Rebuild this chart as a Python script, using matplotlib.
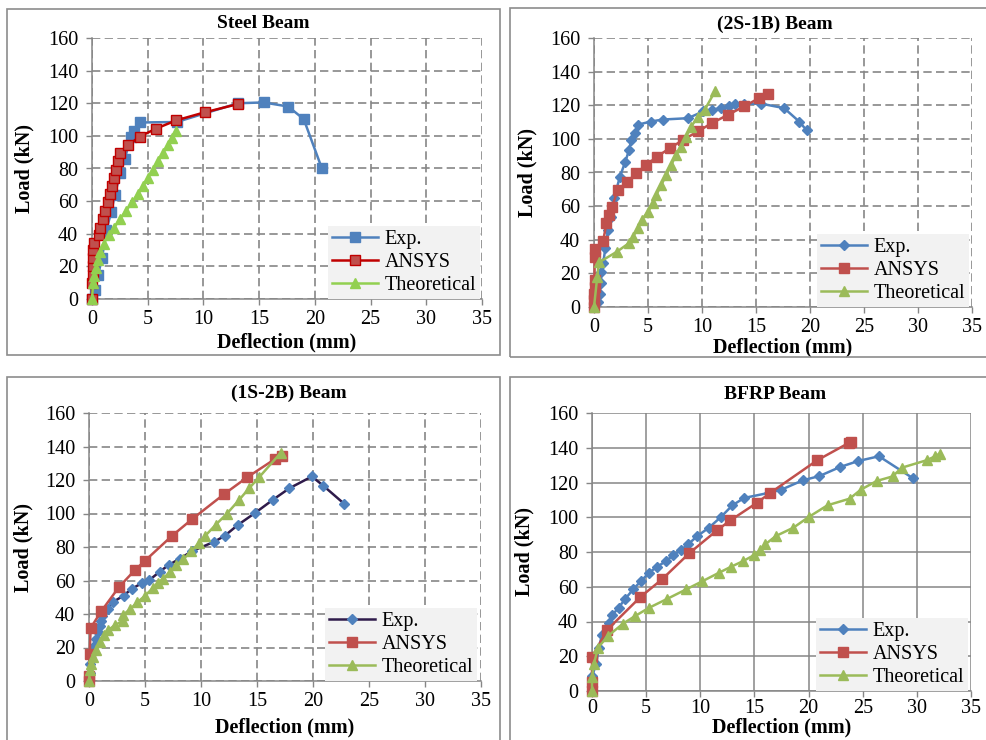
import matplotlib.pyplot as plt
from matplotlib.patches import Rectangle

# -----------------------------------------------------------------------------
# Load-deflection data (mm, kN)
# -----------------------------------------------------------------------------

# Steel beam
steel_exp_x = [0, 0.3, 0.54, 0.9, 1.29, 1.74, 2.04, 2.55, 2.93, 3.5, 3.74, 4.28, 7.6, 13.1, 15.4, 17.6, 19.0, 20.6]
steel_exp_y = [0, 5.5, 14.7, 25, 42.4, 53.6, 63.8, 77.1, 85.7, 99.6, 103.1, 108.2, 108.5, 120, 120.5, 118, 110.3, 80.6]
steel_ans_x = [0, 0, 0.05, 0.05, 0.1, 0.1, 0.15, 0.6, 0.75, 0.96, 1.2, 1.4, 1.65, 1.8, 1.95, 2.15, 2.3,
               2.55, 3.2, 4.3, 5.7, 7.55, 10.1, 13.1]
steel_ans_y = [0, 10, 15, 20, 25, 30, 34.2, 39.3, 43.8, 49.1, 54, 59.3, 64.2, 69.4, 74, 79.2, 84.3,
               89.4, 94.1, 99.6, 104.3, 109.5, 114.4, 119.5]
steel_th_x = [0, 0.1, 0.2, 0.4, 0.54, 0.7, 1.05, 1.5, 2.0, 2.5, 3.05, 3.6, 4.1, 4.6, 5.0, 5.5, 5.9,
              6.35, 6.8, 7.2, 7.5]
steel_th_y = [0, 9.6, 14, 19, 24, 28.6, 34, 39.3, 43.8, 49, 54, 59.3, 64.2, 69.4, 74, 79.2, 84.3,
              89.4, 94.1, 99, 102.7]

# (2S-1B) beam
b2s_exp_x = [0, 0.37, 0.52, 0.62, 0.68, 0.85, 1.05, 1.3, 1.6, 1.85, 2.4, 2.9, 3.25, 3.45, 3.75, 4.1,
             5.25, 6.35, 8.7, 10.1, 10.9, 11.8, 12.5, 13.1, 13.9, 15.5, 17.6, 19.0, 19.7]
b2s_exp_y = [0, 3, 8, 14, 21, 26, 35, 45.7, 53.7, 64.6, 77.5, 86.5, 93.4, 99.4, 103.4, 108.5,
             110.3, 111.5, 112.3, 116.3, 117.3, 118.3, 119.7, 120.7, 120.9, 120.9, 118.3, 110.3, 105]
b2s_ans_x = [0, 0, 0, 0.05, 0.05, 0.06, 0.12, 0.85, 1.15, 1.36, 1.67, 2.2, 3.1, 3.9, 4.85, 5.85,
             7.0, 8.25, 9.6, 10.9, 12.4, 13.9, 15.3, 16.1]
b2s_ans_y = [0, 4, 8, 12, 16, 30, 34.5, 39.4, 49.7, 54.5, 59.5, 69.6, 74.5, 79.5, 84.5, 89.5,
             94.4, 99.4, 104.4, 109.3, 114.3, 119.3, 124.3, 126.8]
b2s_th_x = [0, 0.3, 0.45, 2.1, 3.2, 3.6, 4.07, 4.4, 5.0, 5.46, 5.77, 6.23, 6.7, 7.16, 7.6, 8.1,
            8.55, 9.0, 9.63, 10.25, 11.2]
b2s_th_y = [0, 17.9, 26.5, 32.8, 37.8, 41.7, 46.7, 51.7, 56.7, 61.6, 66.6, 72.6, 78.5, 84.5, 90.5, 95.4,
            101.4, 107.3, 113.3, 117.3, 128.2]

# (1S-2B) beam
b1s_exp_x = [0, 0.06, 0.12, 0.2, 0.45, 0.66, 0.8, 0.95, 1.05, 1.2, 1.7, 2.1, 3.1, 3.8, 4.7, 5.4,
             6.3, 7.1, 8.1, 9.2, 11.2, 12.1, 13.3, 14.8, 16.4, 17.9, 19.9, 20.9, 22.8]
b1s_exp_y = [0, 5, 10, 16, 21, 25, 29, 33, 36, 39, 43, 47, 51, 55, 58.3, 60.3,
             65.2, 69.2, 73, 77.5, 83.2, 86.6, 93.2, 100.2, 108.1, 115.1, 122.1, 116.7, 105.7]
b1s_ans_x = [0, 0, 0.06, 0.15, 1.1, 2.7, 4.1, 5.0, 7.4, 9.2, 12.05, 14.1, 16.6, 17.2]
b1s_ans_y = [0, 3, 16.4, 31.7, 41.7, 56.3, 66.2, 71.8, 86.6, 96.6, 111.5, 121.5, 132.5, 134.5]
b1s_th_x = [0, 0.06, 0.15, 0.4, 0.66, 0.95, 1.3, 1.7, 2.3, 3.0, 3.0, 3.64, 4.3, 5.0, 5.67, 6.2, 6.6,
            7.2, 7.8, 8.4, 9.15, 9.84, 10.4, 11.3, 12.3, 13.4, 14.3, 15.2, 17.1]
b1s_th_y = [0, 6.4, 10.4, 14.4, 18.4, 23.3, 27.3, 30.3, 33.3, 35.9, 39.3, 42.7, 46.9, 50.9, 55.3, 58.7, 60.8,
            65.2, 69.2, 72.6, 77.6, 82.6, 86.8, 93.2, 99.8, 108.1, 115.1, 121.7, 136.1]

# BFRP beam
bfrp_exp_x = [0, 0, 0.4, 0.62, 0.92, 1.54, 1.85, 2.46, 3.08, 3.8, 4.5, 5.24, 5.98, 6.8, 7.5, 8.2,
              8.87, 9.73, 10.8, 11.9, 12.97, 14.05, 16.3, 17.5, 19.44, 21.0, 22.9, 24.6, 26.5, 29.6]
bfrp_exp_y = [0, 8.4, 15.7, 24.9, 32, 39.1, 43.5, 48, 53.1, 58.5, 63.1, 67.9, 71.4, 74.6, 78.1, 81,
              84.4, 89.2, 94, 100.1, 106.9, 111.1, 114, 115.9, 121.2, 123.7, 128.9, 132.4, 135.1, 122.6]
bfrp_ans_x = [0, 0, 0, 1.42, 4.47, 6.47, 9.0, 11.55, 12.78, 15.25, 16.48, 20.8, 23.75, 23.9]
bfrp_ans_y = [0, 5.2, 19.6, 35.3, 54.1, 64.3, 79.4, 92.5, 98.2, 108.4, 114.1, 132.8, 142.9, 143.3]
bfrp_th_x = [0, 0, 0.18, 0.55, 1.48, 2.87, 3.94, 5.24, 6.97, 8.7, 10.17, 11.74, 12.8, 13.9, 14.94,
             15.56, 16.0, 16.98, 18.6, 20.0, 21.75, 23.8, 24.83, 26.3, 27.76, 28.6, 30.9, 31.7, 32.1]
bfrp_th_y = [0, 8.1, 15.7, 24.9, 31.7, 38.8, 43, 47.8, 53.1, 58.5, 63.1, 68.1, 71.4, 74.6, 78.1,
             81, 84.4, 89.2, 94, 100.1, 106.9, 110.7, 115.9, 120.9, 123.5, 128.5, 132.8, 135.1, 136.6]

SERIES_LABELS = ['Exp.', 'ANSYS', 'Theoretical']
X_TICKS = [0, 5, 10, 15, 20, 25, 30, 35]
Y_TICKS = [0, 20, 40, 60, 80, 100, 120, 140, 160]

BLUE = '#4F81BD'
RED = '#C0504D'
GREEN = '#9BBB59'
GRID = '#868686'

plt.rcParams['font.family'] = ['Liberation Serif', 'DejaVu Serif']

W, H = 987, 740
fig = plt.figure(figsize=(W / 100, H / 100), dpi=100)


def px_axes(x0, x1, y_top, y_bot):
    return fig.add_axes([x0 / W, (H - y_bot) / H, (x1 - x0) / W, (y_bot - y_top) / H])


def chart_frame(x0, x1, y_top, y_bot):
    fig.add_artist(Rectangle((x0 / W, (H - y_bot) / H), (x1 - x0) / W, (y_bot - y_top) / H,
                             transform=fig.transFigure, fill=False, edgecolor='#8C8C8C', lw=1.2))


def style_axes(ax, title, title_pos, xlab_y, ylab_x, dashed=True, xpad=4):
    ax.set_xlim(0, 35)
    ax.set_ylim(0, 160)
    ax.set_xticks(X_TICKS)
    ax.set_yticks(Y_TICKS)
    ax.tick_params(axis='both', direction='out', length=4, width=1, color=GRID, labelsize=14.5)
    ax.tick_params(axis='y', pad=6)
    ax.tick_params(axis='x', pad=xpad)
    for side in ['top', 'right']:
        ax.spines[side].set_visible(False)
    for side in ['left', 'bottom']:
        ax.spines[side].set_color(GRID)
        ax.spines[side].set_linewidth(1.1)
    if dashed:
        ax.grid(True, color=GRID, lw=1.2, linestyle=(0, (5, 2.6)))
    else:
        ax.grid(True, color=GRID, lw=1.1, linestyle='-')
    ax.set_axisbelow(True)
    ax.text(title_pos[0], title_pos[1], title, transform=ax.transAxes, ha='center', va='center',
            fontsize=14, fontweight='bold')
    ax.set_xlabel('Deflection (mm)', fontsize=14.5, fontweight='bold', va='center')
    ax.xaxis.set_label_coords(0.5, xlab_y)
    ax.set_ylabel('Load (kN)', fontsize=14.5, fontweight='bold', va='center')
    ax.yaxis.set_label_coords(ylab_x, 0.5)


def add_legend(ax, x_right):
    leg = ax.legend(loc='lower right', bbox_to_anchor=(x_right, 0.0), borderaxespad=0,
                    fontsize=14.5, frameon=True, fancybox=False, framealpha=1,
                    facecolor='#F2F2F2', edgecolor='none', handlelength=2.3,
                    handletextpad=0.3, labelspacing=0.2, borderpad=0.2)
    leg.get_frame().set_linewidth(0)


def series(ax, x, y, color, marker, ms, mfc=None, mec=None, label=None):
    ax.plot(x, y, color=color, lw=1.8, marker=marker, ms=ms,
            mfc=mfc if mfc else color, mec=mec if mec else color,
            label=label, clip_on=False, zorder=3)


chart_frame(7, 500, 9, 355)
chart_frame(510, 995, 8, 357)
chart_frame(7, 500, 377, 750)
chart_frame(510, 995, 377, 750)

# --- Steel Beam ---
ax1 = px_axes(92, 482, 38, 299)
series(ax1, steel_exp_x, steel_exp_y, BLUE, 's', 6.5, label=SERIES_LABELS[0])
series(ax1, steel_ans_x, steel_ans_y, '#C00000', 's', 6.5, mfc='#C0504D', mec='#C00000', label=SERIES_LABELS[1])
series(ax1, steel_th_x, steel_th_y, '#92D050', '^', 7, label=SERIES_LABELS[2])
style_axes(ax1, 'Steel Beam', (0.438, 1.054), -0.165, -0.174)
add_legend(ax1, 0.995)

# --- (2S-1B) Beam ---
ax2 = px_axes(594, 972, 38, 307)
series(ax2, b2s_exp_x, b2s_exp_y, BLUE, 'D', 5.5, label=SERIES_LABELS[0])
series(ax2, b2s_ans_x, b2s_ans_y, RED, 's', 7, label=SERIES_LABELS[1])
series(ax2, b2s_th_x, b2s_th_y, GREEN, '^', 7, label=SERIES_LABELS[2])
style_axes(ax2, '(2S-1B) Beam', (0.479, 1.052), -0.152, -0.177)
add_legend(ax2, 0.992)

# --- (1S-2B) Beam ---
ax3 = px_axes(89, 481, 413, 681)
series(ax3, b1s_exp_x, b1s_exp_y, '#2F1B4B', 'D', 5.5, mfc=BLUE, mec=BLUE, label=SERIES_LABELS[0])
series(ax3, b1s_ans_x, b1s_ans_y, RED, 's', 7, label=SERIES_LABELS[1])
series(ax3, b1s_th_x, b1s_th_y, GREEN, '^', 7, label=SERIES_LABELS[2])
style_axes(ax3, '(1S-2B) Beam', (0.51, 1.075), -0.175, -0.166)
add_legend(ax3, 0.99)

# --- BFRP Beam ---
ax4 = px_axes(592, 971, 413, 691)
series(ax4, bfrp_exp_x, bfrp_exp_y, BLUE, 'D', 5.5, label=SERIES_LABELS[0])
series(ax4, bfrp_ans_x, bfrp_ans_y, RED, 's', 7, label=SERIES_LABELS[1])
series(ax4, bfrp_th_x, bfrp_th_y, GREEN, '^', 7, label=SERIES_LABELS[2])
style_axes(ax4, 'BFRP Beam', (0.483, 1.068), -0.13, -0.177, dashed=False, xpad=1.5)
add_legend(ax4, 0.992)

fig.savefig('out.png', dpi=100)
